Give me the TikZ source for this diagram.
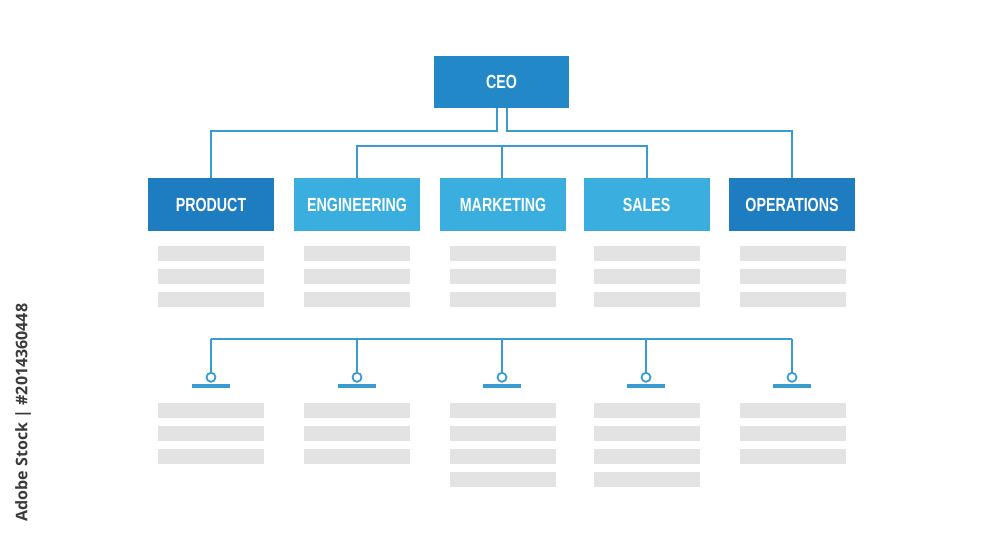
\documentclass[tikz,border=0pt]{standalone}
\usepackage{fontspec}
\setmainfont{Liberation Sans}
\newfontfamily\boxfont[FakeStretch=0.75]{Liberation Sans}
\newfontfamily\wmfont{Open Sans}
\definecolor{dblue}{HTML}{1E7CC0}
\definecolor{ceoblue}{HTML}{2388C8}
\definecolor{lblue}{HTML}{3BAEE0}
\definecolor{lineblue}{HTML}{3A9BD0}
\definecolor{barg}{HTML}{E3E3E3}
\definecolor{wmgray}{HTML}{3A3A3A}
\begin{document}
\begin{tikzpicture}[x=1pt,y=-1pt,
  box/.style={rectangle, minimum width=126pt, minimum height=53pt, inner sep=0pt,
    text=white, font=\boxfont\bfseries\fontsize{19}{19}\selectfont},
  conn/.style={draw=lineblue, line width=2pt},
  pin/.style={circle, draw=lineblue, fill=white, line width=1.8pt, minimum size=9pt, inner sep=0pt},
  pinbar/.style={rectangle, fill=lineblue, minimum width=38pt, minimum height=4pt, inner sep=0pt},
  grayline/.style={fill=barg}]
\useasboundingbox (0,0) rectangle (1000,545);
% top boxes
\node[box, fill=ceoblue, minimum width=135pt, minimum height=52pt] (ceo) at (501.5,82) {CEO};
\node[box, fill=dblue] (prod) at (211,204.5) {PRODUCT};
\node[box, fill=lblue] (eng) at (357,204.5) {ENGINEERING};
\node[box, fill=lblue] (mkt) at (503,204.5) {MARKETING};
\node[box, fill=lblue] (sales) at (646.5,204.5) {SALES};
\node[box, fill=dblue] (ops) at (792,204.5) {OPERATIONS};
% top connectors
\draw[conn] ([xshift=-4.5pt]ceo.south) -- ++(0,23) -| (prod.north);
\draw[conn] ([xshift=5.5pt]ceo.south) -- ++(0,23) -| (ops.north);
\coordinate (b2) at (502,146);
\draw[conn] (eng.north) |- (b2) -| (sales.north);
\draw[conn] (b2) -- (b2 |- mkt.north);
% gray lines under boxes
\foreach \x in {211,357,503,647,793}{
  \foreach \y in {253.5,276.5,299.5}{
    \fill[grayline] (\x-53,\y-7.5) rectangle (\x+53,\y+7.5);
  }
}
% bottom bus
\coordinate (busL) at (211,339);
\coordinate (busR) at (792,339);
\foreach \x/\n in {211/a,357/b,502/c,646/d,792/e}{
  \node[pinbar] (bar\n) at (\x,385.5) {};
  \coordinate (top\n) at (\x,339);
}
\draw[conn] (busL) -- (busR);
\foreach \n in {a,b,c,d,e}{
  \draw[conn] (top\n) -- ([yshift=10pt]bar\n.north);
  \node[pin] (pin\n) at ([yshift=6pt]bar\n.north) {};
}
% gray lines bottom
\foreach \x/\k in {211/3,357/3,503/4,647/4,793/3}{
  \foreach \i in {1,...,\k}{
    \fill[grayline] (\x-53,410.5+23*\i-23-7.5) rectangle (\x+53,410.5+23*\i-23+7.5);
  }
}
% side text
\node[rotate=90, font=\wmfont\bfseries\fontsize{16}{16}\selectfont, text=wmgray] (wm) at (23,412.5) {Adobe Stock | \#2014360448};
\end{tikzpicture}
\end{document}
